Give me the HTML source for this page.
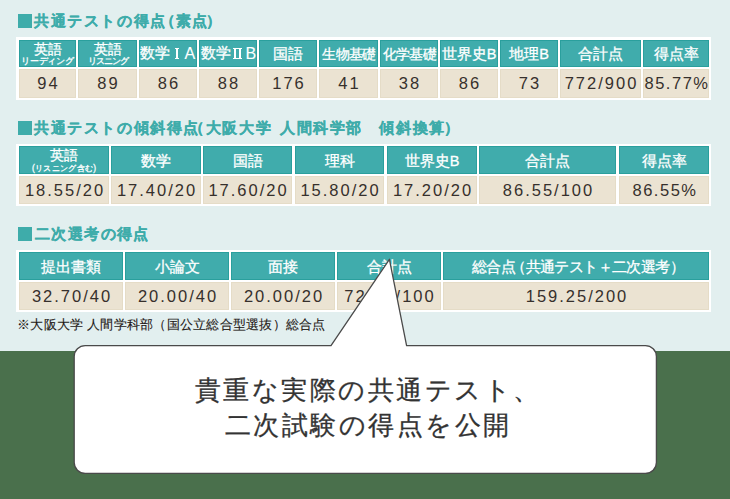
<!DOCTYPE html>
<html><head><meta charset="utf-8"><title>score</title><style>
*{margin:0;padding:0;box-sizing:border-box}
html,body{width:730px;height:499px;overflow:hidden}
body{position:relative;background:#e2efef;font-family:"Liberation Sans", sans-serif;color:#231815}
.ttl{position:absolute;font-size:14.5px;line-height:20px;font-weight:bold;-webkit-text-stroke:0.3px #3eacaa;color:#3eacaa;white-space:nowrap}
.hd,.bd{position:absolute;display:flex;align-items:center;justify-content:center;text-align:center;white-space:nowrap}
.hd{box-shadow:inset 0 0 0 1px #2a9f9d;color:#fff;font-size:14.5px;font-weight:normal;-webkit-text-stroke:0.3px #fff;line-height:15px;padding-top:2px}
.hd .l1{font-size:14px;line-height:14px;display:block}
.hd small{font-size:9px;line-height:10px;display:block;letter-spacing:-0.2px}
.hd small.s2{font-size:8.4px;letter-spacing:0.3px;margin-top:1px;padding-left:0.3px}
.bd{box-shadow:inset 0 0 0 1px #e5dcc7;color:#36302c;font-size:16.5px;letter-spacing:2px;padding-left:2px}
.ab{position:absolute;font-style:normal;line-height:15px}
.rn{font-family:"Liberation Serif",serif;font-weight:bold;font-size:15px;letter-spacing:-0.5px;-webkit-text-stroke:0;border-top:1.6px solid #fff;border-bottom:1.6px solid #fff;line-height:10.5px;height:13.5px;padding:0 0.5px}
.lt{font-size:16px;line-height:16px;-webkit-text-stroke:0.1px #fff}
.rnb{position:absolute;background:#fff;display:block}
.h2l{display:block;line-height:14px;margin-top:-2px}
.note{position:absolute;left:17px;top:316px;font-size:13px;letter-spacing:0.25px;-webkit-text-stroke:0.1px #231815;line-height:17px;white-space:nowrap;color:#231815}
.bub{position:absolute;left:78px;width:580px;top:373px;text-align:center;font-size:26px;letter-spacing:2.5px;line-height:35px;color:#333;-webkit-text-stroke:0.3px #333;white-space:nowrap}
</style></head>
<body>
<div style="position:absolute;left:18px;top:14px;width:14px;height:14px;background:#3eacaa;"></div>
<div class="ttl" style="left:34px;top:11px;letter-spacing:1.6px">共通テストの得点</div>
<div class="ttl" style="left:159.5px;top:11px;letter-spacing:0px">（</div>
<div class="ttl" style="left:176px;top:11px;letter-spacing:0.6px">素点</div>
<div class="ttl" style="left:206px;top:11px;letter-spacing:0px">）</div>
<div style="position:absolute;left:16px;top:37px;width:695px;height:63px;background:#fff;"></div>
<div class="hd" style="left:19px;top:40px;width:57px;height:27px;background:#40acac"><span class="h2l"><span class="l1">英語</span><small>リーディング</small></span></div>
<div class="bd" style="left:19px;top:69px;width:57px;height:29px;background:#ebe3d2">94</div>
<div class="hd" style="left:78px;top:40px;width:59px;height:27px;background:#40acac"><span class="h2l"><span class="l1">英語</span><small style="letter-spacing:-1px">リスニング</small></span></div>
<div class="bd" style="left:78px;top:69px;width:59px;height:29px;background:#ebe3d2">89</div>
<div class="hd" style="left:139px;top:40px;width:58px;height:27px;background:#40acac"><i class="ab" style="left:0.5px;top:6px">数学</i><i class="rnb" style="left:35.6px;top:7.7px;width:4.9px;height:1.5px"></i><i class="rnb" style="left:35.6px;top:17.9px;width:4.9px;height:1.5px"></i><i class="rnb" style="left:37.1px;top:7.7px;width:1.9px;height:11.7px"></i><i class="ab lt" style="left:45.5px;top:5.7px">A</i></div>
<div class="bd" style="left:139px;top:69px;width:58px;height:29px;background:#ebe3d2">86</div>
<div class="hd" style="left:199px;top:40px;width:58px;height:27px;background:#40acac"><i class="ab" style="left:2px;top:6px">数学</i><i class="rnb" style="left:34.1px;top:7.7px;width:8.8px;height:1.5px"></i><i class="rnb" style="left:34.1px;top:17.9px;width:8.8px;height:1.5px"></i><i class="rnb" style="left:35.2px;top:7.7px;width:1.9px;height:11.7px"></i><i class="rnb" style="left:39.7px;top:7.7px;width:1.9px;height:11.7px"></i><i class="ab lt" style="left:46.5px;top:5.7px">B</i></div>
<div class="bd" style="left:199px;top:69px;width:58px;height:29px;background:#ebe3d2">88</div>
<div class="hd" style="left:259px;top:40px;width:58px;height:27px;background:#40acac">国語</div>
<div class="bd" style="left:259px;top:69px;width:58px;height:29px;background:#ebe3d2">176</div>
<div class="hd" style="left:319px;top:40px;width:59px;height:27px;background:#40acac"><span style="font-size:13.5px;letter-spacing:-0.7px;margin-left:1px">生物基礎</span></div>
<div class="bd" style="left:319px;top:69px;width:59px;height:29px;background:#ebe3d2">41</div>
<div class="hd" style="left:380px;top:40px;width:58px;height:27px;background:#40acac"><span style="font-size:13.5px;letter-spacing:-0.7px;margin-left:1px">化学基礎</span></div>
<div class="bd" style="left:380px;top:69px;width:58px;height:29px;background:#ebe3d2">38</div>
<div class="hd" style="left:440px;top:40px;width:58px;height:27px;background:#40acac">世界史B</div>
<div class="bd" style="left:440px;top:69px;width:58px;height:29px;background:#ebe3d2">86</div>
<div class="hd" style="left:500px;top:40px;width:58px;height:27px;background:#40acac">地理B</div>
<div class="bd" style="left:500px;top:69px;width:58px;height:29px;background:#ebe3d2">73</div>
<div class="hd" style="left:560px;top:40px;width:81px;height:27px;background:#40acac">合計点</div>
<div class="bd" style="left:560px;top:69px;width:81px;height:29px;background:#ebe3d2">772/900</div>
<div class="hd" style="left:643px;top:40px;width:66px;height:27px;background:#40acac">得点率</div>
<div class="bd" style="left:643px;top:69px;width:66px;height:29px;background:#ebe3d2"><span style="letter-spacing:1.5px">85.77%</span></div>
<div style="position:absolute;left:18px;top:121px;width:14px;height:14px;background:#3eacaa;"></div>
<div class="ttl" style="left:34px;top:118px;letter-spacing:1.6px">共通テストの傾斜得点</div>
<div class="ttl" style="left:189px;top:118px;letter-spacing:1.7px">（大阪大学</div>
<div class="ttl" style="left:280px;top:118px;letter-spacing:1.5px">人間科学部</div>
<div class="ttl" style="left:379px;top:118px;letter-spacing:1.8px">傾斜換算</div>
<div class="ttl" style="left:443.5px;top:118px;letter-spacing:0px">）</div>
<div style="position:absolute;left:16px;top:144px;width:695px;height:62px;background:#fff;"></div>
<div class="hd" style="left:19px;top:146px;width:90px;height:28px;background:#40acac"><span class="h2l"><span class="l1">英語</span><small class="s2">(リスニング含む)</small></span></div>
<div class="bd" style="left:19px;top:176px;width:90px;height:28px;background:#ebe3d2">18.55/20</div>
<div class="hd" style="left:111px;top:146px;width:90px;height:28px;background:#40acac">数学</div>
<div class="bd" style="left:111px;top:176px;width:90px;height:28px;background:#ebe3d2">17.40/20</div>
<div class="hd" style="left:203px;top:146px;width:89px;height:28px;background:#40acac">国語</div>
<div class="bd" style="left:203px;top:176px;width:89px;height:28px;background:#ebe3d2">17.60/20</div>
<div class="hd" style="left:295px;top:146px;width:89px;height:28px;background:#40acac">理科</div>
<div class="bd" style="left:295px;top:176px;width:89px;height:28px;background:#ebe3d2">15.80/20</div>
<div class="hd" style="left:387px;top:146px;width:90px;height:28px;background:#40acac">世界史B</div>
<div class="bd" style="left:387px;top:176px;width:90px;height:28px;background:#ebe3d2">17.20/20</div>
<div class="hd" style="left:479px;top:146px;width:137px;height:28px;background:#40acac">合計点</div>
<div class="bd" style="left:479px;top:176px;width:137px;height:28px;background:#ebe3d2">86.55/100</div>
<div class="hd" style="left:619px;top:146px;width:90px;height:28px;background:#40acac">得点率</div>
<div class="bd" style="left:619px;top:176px;width:90px;height:28px;background:#ebe3d2"><span style="letter-spacing:1.5px">86.55%</span></div>
<div style="position:absolute;left:18px;top:227px;width:14px;height:14px;background:#3eacaa;"></div>
<div class="ttl" style="left:35px;top:224px;letter-spacing:1.4px">二次選考の得点</div>
<div style="position:absolute;left:16px;top:250px;width:695px;height:62px;background:#fff;"></div>
<div class="hd" style="left:19px;top:252px;width:104px;height:28px;background:#40acac">提出書類</div>
<div class="bd" style="left:19px;top:282px;width:104px;height:28px;background:#ebe3d2">32.70/40</div>
<div class="hd" style="left:125px;top:252px;width:104px;height:28px;background:#40acac">小論文</div>
<div class="bd" style="left:125px;top:282px;width:104px;height:28px;background:#ebe3d2">20.00/40</div>
<div class="hd" style="left:231px;top:252px;width:104px;height:28px;background:#40acac">面接</div>
<div class="bd" style="left:231px;top:282px;width:104px;height:28px;background:#ebe3d2">20.00/20</div>
<div class="hd" style="left:337px;top:252px;width:104px;height:28px;background:#40acac">合計点</div>
<div class="bd" style="left:337px;top:282px;width:104px;height:28px;background:#ebe3d2">72.70/100</div>
<div class="hd" style="left:443px;top:252px;width:266px;height:28px;background:#40acac"><span style="letter-spacing:-0.6px;margin-left:4px">総合点<span style="margin-left:-4px">（</span>共通テスト＋二次選考）</span></div>
<div class="bd" style="left:443px;top:282px;width:266px;height:28px;background:#ebe3d2">159.25/200</div>
<div class="note">※大阪大学 人間学科部（国公立総合型選抜）総合点</div>
<div style="position:absolute;left:0px;top:351px;width:730px;height:148px;background:#4a704c;"></div>
<svg style="position:absolute;left:0;top:0" width="730" height="499" viewBox="0 0 730 499">
<path d="M85.2 345.6 H331 L389.4 259.3 L406.6 345.6 H645.4 A11 11 0 0 1 656.4 356.6 V462.4 A11 11 0 0 1 645.4 473.4 H85.2 A11 11 0 0 1 74.2 462.4 V356.6 A11 11 0 0 1 85.2 345.6 Z" fill="#fff" stroke="#4a4a4a" stroke-width="1.3" stroke-linejoin="round"/>
</svg>
<div class="bub">貴重な実際の共通テスト、<br>二次試験の得点を公開</div>
</body></html>
